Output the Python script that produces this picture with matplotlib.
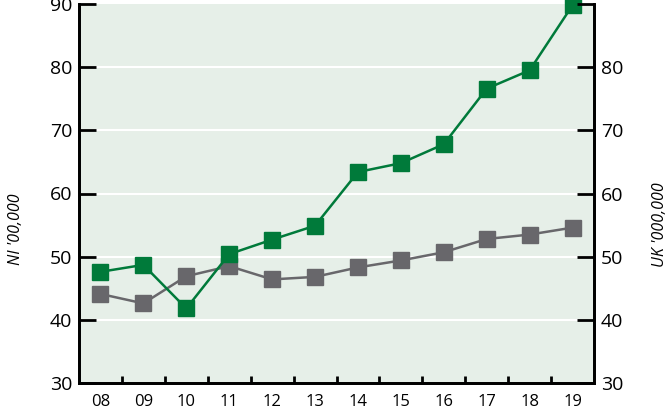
import matplotlib
matplotlib.use("Agg")
import matplotlib.pyplot as plt
import numpy as np

years = ["08", "09", "10", "11", "12", "13", "14", "15", "16", "17", "18", "19"]
ni_values = [47.6, 48.7, 41.8, 50.4, 52.7, 54.9, 63.4, 64.8, 67.8, 76.6, 79.5, 89.8]
uk_values = [44.1, 42.6, 46.9, 48.5, 46.4, 46.8, 48.3, 49.4, 50.7, 52.8, 53.5, 54.6]
y_ticks = [30, 40, 50, 60, 70, 80, 90]
right_tick_labels = ["30", "40", "50", "60", "70", "80", ""]

plt.rcParams['font.family'] = ['Open Sans', 'DejaVu Sans']

fig = plt.figure(figsize=(6.7, 4.12), dpi=100)
ax = fig.add_axes([79/670, (412-383)/412, (594-79)/670, (383-4)/412])
ax.set_facecolor('#e6efe8')

x = np.arange(len(years))
green = '#007a3a'
gray = '#68676b'

ax.set_ylim(30, 90)
ax.set_xlim(-0.5, len(years) - 0.5)
for yv in y_ticks[1:-1]:
    ax.axhline(yv, color='white', lw=1.5, zorder=1)

ax.plot(x, uk_values, color=gray, lw=1.8, marker='s', ms=11.5, zorder=3, clip_on=False)
ax.plot(x, ni_values, color=green, lw=1.8, marker='s', ms=11.5, zorder=4, clip_on=False)

for s in ['left', 'right', 'bottom']:
    ax.spines[s].set_linewidth(2)
    ax.spines[s].set_color('black')
ax.spines['top'].set_visible(False)

ax.set_yticks(y_ticks)
ax.set_yticklabels([str(v) for v in y_ticks], fontsize=14)
ax.tick_params(axis='y', direction='in', length=12, width=2, pad=5)

ax.set_xticks(x)
ax.set_xticklabels(years, fontsize=12)
ax.set_xticks(x[:-1] + 0.5, minor=True)
ax.tick_params(axis='x', which='major', length=0, pad=8)
ax.tick_params(axis='x', which='minor', direction='in', length=5, width=2)

ax2 = ax.twinx()
ax2.set_ylim(30, 90)
ax2.set_yticks(y_ticks)
ax2.set_yticklabels(right_tick_labels, fontsize=14)
ax2.tick_params(axis='y', direction='in', length=12, width=2, pad=5)
for s in ['left', 'right', 'bottom']:
    ax2.spines[s].set_linewidth(2)
ax2.spines['top'].set_visible(False)

fig.text(16/670, 1 - 229/412, "NI '00,000", rotation=90, style='italic', fontsize=11.5,
         ha='center', va='center')
fig.text(660/670, 1 - 225/412, "UK '000,000", rotation=90, style='italic', fontsize=11.5,
         ha='center', va='center')

fig.savefig("out.png", dpi=100)
